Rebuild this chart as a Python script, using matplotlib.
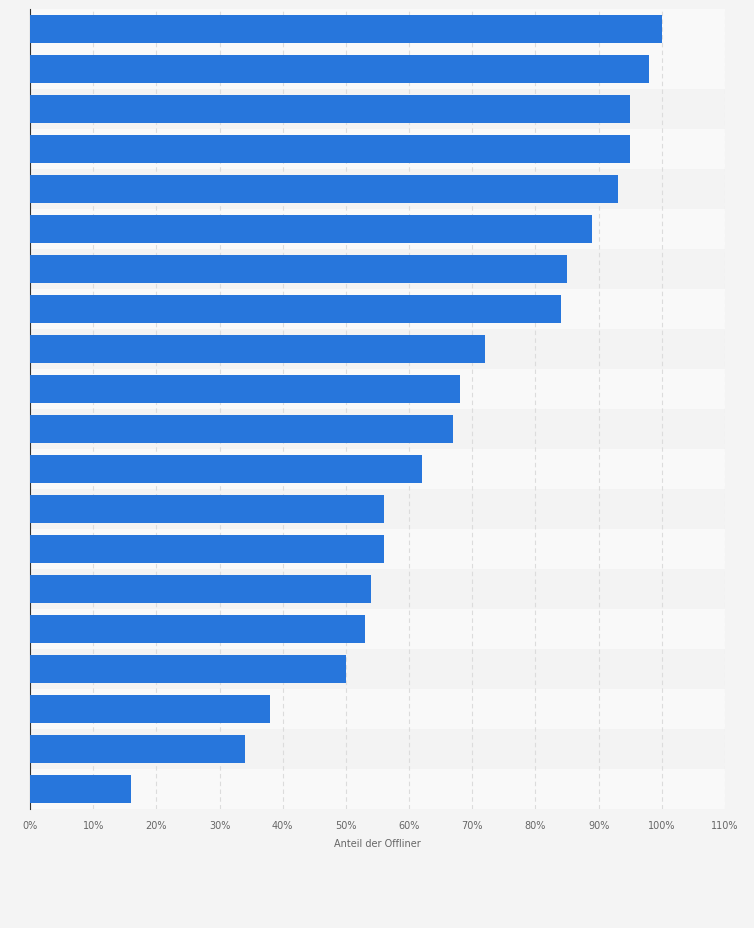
import matplotlib
matplotlib.use("Agg")
import matplotlib.pyplot as plt
import numpy as np

values = [100, 98, 95, 95, 93, 89, 85, 84, 72, 68, 67, 62, 56, 56, 54, 53, 50, 38, 34, 16]
xticks = list(range(0, 111, 10))
xticklabels = [f"{t}%" for t in xticks]

fig = plt.figure(figsize=(7.54, 9.29), dpi=100, facecolor="#f4f4f4")
ax = fig.add_axes([30/754, 1-810/929, 695/754, 800/929])
ax.set_facecolor("#f9f9f9")
n = len(values)
y = np.arange(n)
for i in range(n):
    if i % 2 == 0:
        ax.axhspan(i-0.5, i+0.5, color="#f3f3f3" if i else "#f9f9f9", zorder=0, lw=0)
    else:
        ax.axhspan(i-0.5, i+0.5, color="#f9f9f9", zorder=0, lw=0)
for i in range(n):
    ax.axhspan(i-0.5, i+0.5, color="#f3f3f3" if i % 2 == 0 and i > 0 else "#f9f9f9", zorder=0, lw=0)
ax.barh(y, values, height=0.7, color="#2776dc", zorder=3)
ax.set_ylim(n-0.5, -0.5)
ax.set_xlim(0, 110)
ax.set_xticks(xticks)
ax.set_xticklabels(xticklabels, fontsize=7, color="#666666")
ax.set_yticks([])
ax.grid(axis="x", color="#dcdcdc", linestyle=(0, (4, 3)), lw=0.8, zorder=1)
for s in ["top", "right", "bottom"]:
    ax.spines[s].set_visible(False)
ax.spines["left"].set_color("#333333")
ax.tick_params(axis="x", length=0, pad=8)
ax.set_xlabel("Anteil der Offliner", fontsize=7, color="#666666", labelpad=6)
fig.savefig("out.png", dpi=100, facecolor=fig.get_facecolor())
